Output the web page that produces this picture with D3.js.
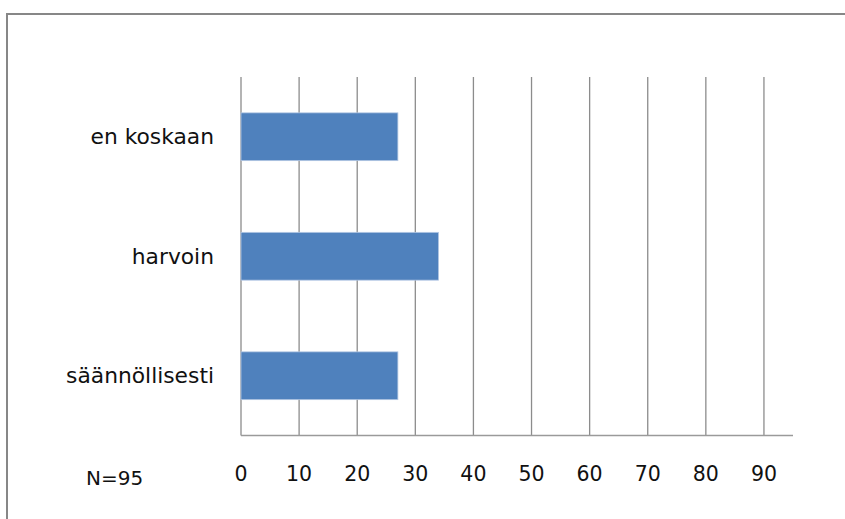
<!DOCTYPE html>
<html>
<head>
<meta charset="utf-8">
<script src="https://cdn.jsdelivr.net/npm/d3@7"></script>
<style>
  body { margin: 0; background: #fff; }
  text { font-family: "DejaVu Sans", sans-serif; fill: #111; }
</style>
</head>
<body>
<div id="chart"></div>
<script>
const categories = ["en koskaan", "harvoin", "säännöllisesti"];
const values = [27, 34, 27];
const ticks = [0, 10, 20, 30, 40, 50, 60, 70, 80, 90];
const note = "N=95";

const width = 845;
const height = 519;

const svg = d3.select('#chart')
  .append('svg')
  .attr('width', width)
  .attr('height', height);

// outer frame, runs off the right and bottom edge
svg.append('rect')
  .attr('x', 7)
  .attr('y', 14)
  .attr('width', 900)
  .attr('height', 600)
  .attr('fill', 'none')
  .attr('stroke', '#878787')
  .attr('stroke-width', 2);

const x = d3.scaleLinear().domain([0, 95]).range([241, 793]);
const y = d3.scaleBand().domain(categories).range([77, 435.5]).paddingInner(0.6).paddingOuter(0.3);

// vertical gridlines
svg.append('g')
  .selectAll('line')
  .data(ticks)
  .enter().append('line')
  .attr('x1', d => x(d))
  .attr('x2', d => x(d))
  .attr('y1', y.range()[0])
  .attr('y2', y.range()[1])
  .attr('stroke', '#8c8c8c')
  .attr('stroke-width', 1.3);

// x axis line
svg.append('line')
  .attr('x1', x(0))
  .attr('x2', x(95))
  .attr('y1', 435.5)
  .attr('y2', 435.5)
  .attr('stroke', '#9a9a9a')
  .attr('stroke-width', 1.3);

svg.selectAll('.bar')
  .data(values)
  .enter().append('rect')
  .attr('class', 'bar')
  .attr('x', x(0))
  .attr('y', (d, i) => y(categories[i]))
  .attr('width', d => x(d) - x(0))
  .attr('height', y.bandwidth())
  .attr('fill', '#4f81bd')
  .attr('stroke', '#b3c7e3')
  .attr('stroke-width', 0.8);

// category labels
svg.selectAll('.cat')
  .data(categories)
  .enter().append('text')
  .attr('class', 'cat')
  .attr('x', 214)
  .attr('y', d => y(d) + y.bandwidth() / 2)
  .attr('dy', '0.35em')
  .attr('text-anchor', 'end')
  .style('font-size', '21.8px')
  .text(d => d);

// tick labels
svg.selectAll('.tick')
  .data(ticks)
  .enter().append('text')
  .attr('class', 'tick')
  .attr('x', d => x(d))
  .attr('y', 481)
  .attr('text-anchor', 'middle')
  .style('font-size', '20.5px')
  .text(d => d);

svg.append('text')
  .attr('x', 86)
  .attr('y', 485)
  .style('font-size', '20px')
  .text(note);
</script>
</body>
</html>
